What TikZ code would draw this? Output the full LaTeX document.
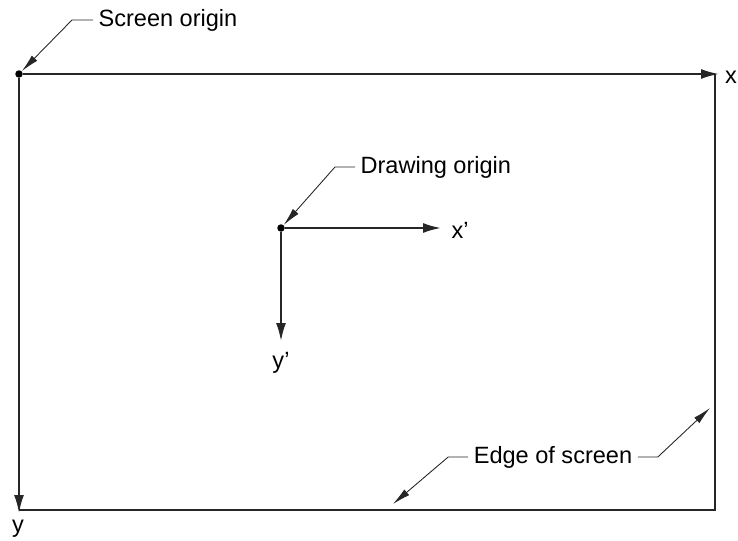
\documentclass[tikz,border=0pt]{standalone}
\usepackage{fontspec}
\setmainfont{Liberation Sans}
\usetikzlibrary{arrows.meta, positioning}

\tikzset{
    axis/.style={line width=1.1pt, draw=black!85},
    leader/.style={line width=0.5pt, draw=black!85},
    dot/.style={circle, fill=black, inner sep=0pt, minimum size=0.15cm},
    txt/.style={inner sep=3pt, font=\fontsize{13.4}{16}\selectfont}
}

\begin{document}
\begin{tikzpicture}[x=0.02cm, y=-0.02cm]
    \useasboundingbox (0,0) rectangle (738,541);

    % screen corners and origins
    \node[dot] (so) at (19,74) {};
    \node[dot] (do) at (281,228) {};
    \coordinate (tr) at (715,74);
    \coordinate (br) at (715,510);
    \coordinate (bl) at (19,510);
    \coordinate (xend) at (719,74);
    \coordinate (yend) at (19,513);
    \coordinate (xpend) at (441,228);
    \coordinate (ypend) at (281,341);

    % axis labels
    \node[txt, inner sep=0pt] (x) at (731,77) {x};
    \node[txt, inner sep=0pt] (y) at (18,529) {y};
    \node[txt, inner sep=0pt] (xp) at (460,230) {x'};
    \node[txt, inner sep=0pt] (yp) at (281,363) {y'};

    % screen edges and axes
    \draw[axis] (tr) -- (br) -- (bl);
    \draw[axis, -{Latex[length=3.6mm, width=2mm]}] (so) -- (xend);
    \draw[axis, -{Latex[length=3.6mm, width=2mm]}] (so) -- (yend);
    \draw[axis, -{Latex[length=3.6mm, width=2mm]}] (do) -- (xpend);
    \draw[axis, -{Latex[length=3.6mm, width=2mm]}] (do) -- (ypend);

    % callouts
    \node[txt, anchor=west] (soname) at (93,20) {Screen origin};
    \node[txt, anchor=west] (doname) at (355,167) {Drawing origin};
    \node[txt] (edge) at (553,457) {Edge of screen};
    \coordinate (e1) at (393,504);
    \coordinate (e2) at (710,408);

    \draw[leader, -{Latex[length=3.6mm, width=1.5mm]}] (soname.west) -- ++(-21,0) -- (so);
    \draw[leader, -{Latex[length=3.6mm, width=1.5mm]}] (doname.west) -- ++(-20,0) -- (do);
    \draw[leader, -{Latex[length=3.6mm, width=1.5mm]}] (edge.west) -- ++(-20,0) -- (e1);
    \draw[leader, -{Latex[length=3.6mm, width=1.5mm]}] (edge.east) -- ++(20,0) -- (e2);
\end{tikzpicture}
\end{document}
